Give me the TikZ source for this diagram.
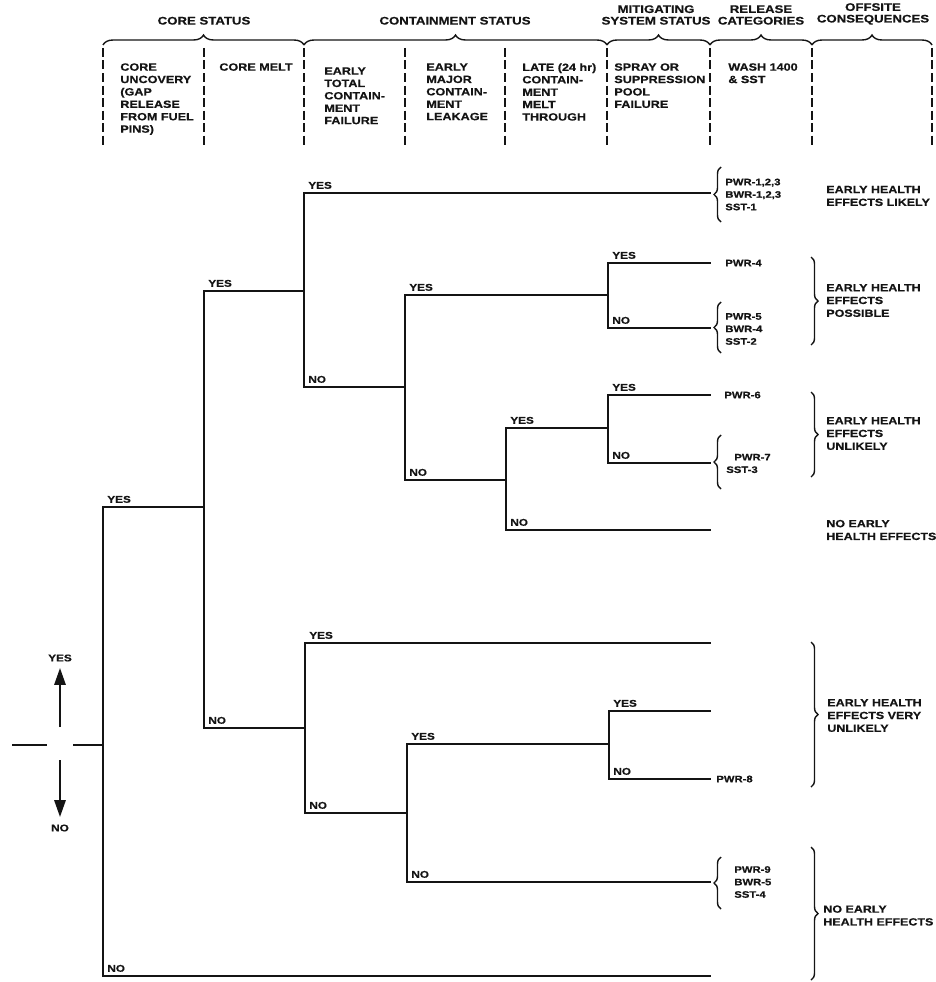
\documentclass[tikz,border=0pt]{standalone}
\usepackage{fontspec}
\setmainfont{Liberation Sans}[FakeStretch=1.2,BoldFeatures={FakeBold=0.6}]
\usepackage{xcolor}
\definecolor{inkColor}{rgb}{0.08,0.08,0.08}
\usepackage{tikz}
\usetikzlibrary{arrows.meta,decorations.pathreplacing}

\begin{document}
\begin{tikzpicture}[x=1pt,y=-1pt,line width=2.7pt,color=inkColor,
  every node/.style={inner sep=0pt,font=\bfseries},
  groupTitle/.style={anchor=south,align=center,font=\fontsize{11}{11.6}\selectfont\bfseries},
  colTitle/.style={anchor=north west,align=left,font=\fontsize{10.5}{12.4}\selectfont\bfseries},
  answer/.style={anchor=south west,xshift=3pt,yshift=2.8pt,font=\fontsize{9.8}{11}\selectfont\bfseries},
  release/.style={anchor=west,align=left,font=\fontsize{9.4}{12.5}\selectfont\bfseries},
  effect/.style={anchor=west,align=left,font=\fontsize{10.4}{12.8}\selectfont\bfseries},
  colRule/.style={line width=1.6pt,dash pattern=on 9pt off 3.5pt},
  topBrace/.style={line width=1.4pt,decorate,decoration={brace,amplitude=10pt}},
  sideBrace/.style={line width=1.4pt,decorate,decoration={brace,amplitude=7pt}},
  legArrow/.style={line width=2.7pt,-{Triangle[length=17pt,width=11pt]}}]
\useasboundingbox (0,0) rectangle (935,982);
%
\node[groupTitle] (grpCore) at (204,26) {CORE STATUS};
\node[groupTitle] (grpContain) at (455,26) {CONTAINMENT STATUS};
\node[groupTitle] (grpMitigate) at (656,26) {MITIGATING\\SYSTEM STATUS};
\node[groupTitle] (grpRelease) at (761,26) {RELEASE\\CATEGORIES};
\node[groupTitle] (grpOffsite) at (873,26) {OFFSITE\\CONSEQUENCES};
\draw[topBrace] (103,45) -- (304,45);
\draw[topBrace] (304,45) -- (607,45);
\draw[topBrace] (607,45) -- (710,45);
\draw[topBrace] (710,45) -- (812,45);
\draw[topBrace] (812,45) -- (932,45);
\foreach \x in {103,204,304,405,505,607,710,812,932}
  \draw[colRule] (\x,48) -- (\x,148);
%
\node[colTitle] (colUncovery) at (119,62) {CORE\\UNCOVERY\\(GAP\\RELEASE\\FROM FUEL\\PINS)};
\node[colTitle] (colMelt) at (218,62) {CORE MELT};
\node[colTitle] (colTotal) at (323,66) {EARLY\\TOTAL\\CONTAIN-\\MENT\\FAILURE};
\node[colTitle] (colMajor) at (425,62) {EARLY\\MAJOR\\CONTAIN-\\MENT\\LEAKAGE};
\node[colTitle] (colLate) at (521,62) {LATE (24 hr)\\CONTAIN-\\MENT\\MELT\\THROUGH};
\node[colTitle] (colSpray) at (613,62) {SPRAY OR\\SUPPRESSION\\POOL\\FAILURE};
\node[colTitle] (colWash) at (727,62) {WASH 1400\\\& SST};
%
\coordinate (rootNode) at (103,745);
\coordinate (meltNode) at (204,507);
\coordinate (totalUp) at (304,291);
\coordinate (totalLow) at (305,728);
\coordinate (majorUp) at (405,387);
\coordinate (majorLow) at (407,813);
\coordinate (lateNode) at (506,480);
\coordinate (sprayUp) at (608,295);
\coordinate (sprayMid) at (608,428);
\coordinate (sprayLow) at (609,744);
\coordinate (endA) at (711,193);
\coordinate (endB) at (711,263);
\coordinate (endC) at (711,328);
\coordinate (endD) at (711,395);
\coordinate (endE) at (711,463);
\coordinate (endF) at (711,530);
\coordinate (endG) at (711,643);
\coordinate (endH) at (711,711);
\coordinate (endI) at (711,779);
\coordinate (endJ) at (711,882);
\coordinate (endK) at (711,976);
%
\draw (rootNode) |- node[answer] (ansA) {YES} (meltNode);
\draw (rootNode) |- node[answer] (ansB) {NO} (endK);
\draw (meltNode) |- node[answer] (ansC) {YES} (totalUp);
\draw (meltNode) |- node[answer] (ansD) {NO} (totalLow);
\draw (totalUp) |- node[answer] (ansE) {YES} (endA);
\draw (totalUp) |- node[answer] (ansF) {NO} (majorUp);
\draw (majorUp) |- node[answer] (ansG) {YES} (sprayUp);
\draw (majorUp) |- node[answer] (ansH) {NO} (lateNode);
\draw (sprayUp) |- node[answer] (ansI) {YES} (endB);
\draw (sprayUp) |- node[answer] (ansJ) {NO} (endC);
\draw (lateNode) |- node[answer] (ansK) {YES} (sprayMid);
\draw (lateNode) |- node[answer] (ansL) {NO} (endF);
\draw (sprayMid) |- node[answer] (ansM) {YES} (endD);
\draw (sprayMid) |- node[answer] (ansN) {NO} (endE);
\draw (totalLow) |- node[answer] (ansO) {YES} (endG);
\draw (totalLow) |- node[answer] (ansP) {NO} (majorLow);
\draw (majorLow) |- node[answer] (ansQ) {YES} (sprayLow);
\draw (majorLow) |- node[answer] (ansR) {NO} (endJ);
\draw (sprayLow) |- node[answer] (ansS) {YES} (endH);
\draw (sprayLow) |- node[answer] (ansT) {NO} (endI);
%
\draw[sideBrace] (721,222) -- (721,167);
\draw[sideBrace] (721,353) -- (721,302);
\draw[sideBrace] (721,489) -- (721,435);
\draw[sideBrace] (721,909) -- (721,857);
\node[release] (relA) at (724,194.5) {PWR-1,2,3\\BWR-1,2,3\\SST-1};
\node[release] (relB) at (724,263) {PWR-4};
\node[release] (relC) at (724,329) {PWR-5\\BWR-4\\SST-2};
\node[release] (relD) at (723,395) {PWR-6};
\node[release] (relE) at (725,463.5) {\hspace*{8pt}PWR-7\\SST-3};
\node[release] (relF) at (715,779) {PWR-8};
\node[release] (relG) at (733,882) {PWR-9\\BWR-5\\SST-4};
%
\draw[sideBrace] (811,257) -- (811,345);
\draw[sideBrace] (811,392) -- (811,477);
\draw[sideBrace] (811,642) -- (811,787);
\draw[sideBrace] (811,847) -- (811,980);
\node[effect] (effLikely) at (825,196) {EARLY HEALTH\\EFFECTS LIKELY};
\node[effect] (effPossible) at (825,300.5) {EARLY HEALTH\\EFFECTS\\POSSIBLE};
\node[effect] (effUnlikely) at (825,433.5) {EARLY HEALTH\\EFFECTS\\UNLIKELY};
\node[effect] (effNoneUp) at (825,530) {NO EARLY\\HEALTH EFFECTS};
\node[effect] (effVery) at (826,715.5) {EARLY HEALTH\\EFFECTS VERY\\UNLIKELY};
\node[effect] (effNoneLow) at (822,915.5) {NO EARLY\\HEALTH EFFECTS};
%
\coordinate (legDashA) at (12,745);
\coordinate (legDashB) at (47,745);
\coordinate (legDashC) at (73,745);
\coordinate (legUpFrom) at (60,727);
\coordinate (legDownFrom) at (60,760);
\node[font=\fontsize{9.8}{11}\selectfont\bfseries] (legYes) at (60,658) {YES};
\node[font=\fontsize{9.8}{11}\selectfont\bfseries] (legNo) at (60,828) {NO};
\draw[line width=2.2pt] (legDashA) -- (legDashB);
\draw[line width=2.2pt] (legDashC) -- (rootNode);
\draw[legArrow,shorten >=5pt] (legUpFrom) -- (legYes);
\draw[legArrow,shorten >=6pt] (legDownFrom) -- (legNo);
\end{tikzpicture}
\end{document}
